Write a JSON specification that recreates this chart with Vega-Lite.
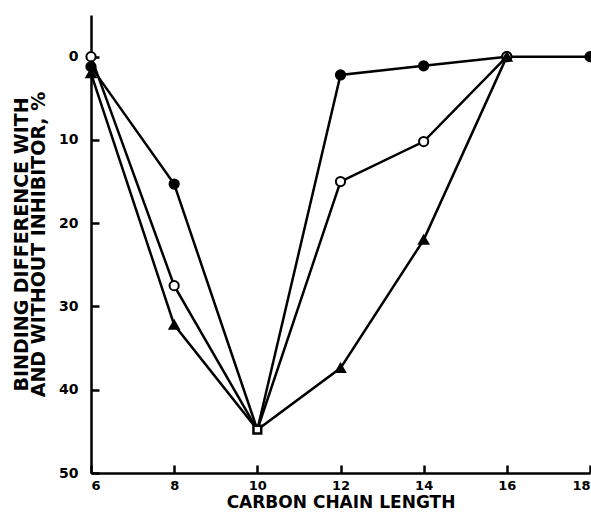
{
  "$schema": "https://vega.github.io/schema/vega-lite/v6.json",
  "width": 499,
  "height": 458,
  "autosize": {"type": "none"},
  "padding": {"left": 91, "top": 15, "right": 1, "bottom": 43},
  "background": "white",
  "config": {
    "view": {"stroke": null},
    "font": "DejaVu Sans",
    "axis": {"grid": false, "domainColor": "black", "domainWidth": 2.5, "tickColor": "black", "tickWidth": 2.5, "labelColor": "black", "titleColor": "black", "labelFont": "DejaVu Sans", "titleFont": "DejaVu Sans", "labelFontSize": 14, "titleFontSize": 18, "titleFontWeight": "bold", "labelFontWeight": "bold"}
  },
  "datasets": {
    "main": [
      {"series": "A", "carbon": 6, "binding": 1.2},
      {"series": "A", "carbon": 8, "binding": 15.3},
      {"series": "A", "carbon": 10, "binding": 44.8},
      {"series": "A", "carbon": 12, "binding": 2.2},
      {"series": "A", "carbon": 14, "binding": 1.1},
      {"series": "A", "carbon": 16, "binding": 0},
      {"series": "A", "carbon": 18, "binding": 0},
      {"series": "B", "carbon": 6, "binding": 0},
      {"series": "B", "carbon": 8, "binding": 27.5},
      {"series": "B", "carbon": 10, "binding": 44.8},
      {"series": "B", "carbon": 12, "binding": 15},
      {"series": "B", "carbon": 14, "binding": 10.2},
      {"series": "B", "carbon": 16, "binding": 0},
      {"series": "C", "carbon": 6, "binding": 2},
      {"series": "C", "carbon": 8, "binding": 32.2},
      {"series": "C", "carbon": 10, "binding": 44.8},
      {"series": "C", "carbon": 12, "binding": 37.4},
      {"series": "C", "carbon": 14, "binding": 22},
      {"series": "C", "carbon": 16, "binding": 0}
    ],
    "center": [{"carbon": 10, "binding": 44.8}]
  },
  "encoding": {
    "x": {"field": "carbon", "type": "quantitative", "scale": {"domain": [6, 18], "nice": false, "zero": false},
      "axis": {"values": [6, 8, 10, 12, 14, 16, 18], "tickSize": -8, "labelPadding": 14, "labelFontSize": 13, "title": "CARBON CHAIN LENGTH", "titlePadding": 2, "titleFontSize": 17}},
    "y": {"field": "binding", "type": "quantitative", "scale": {"domain": [-5, 50], "reverse": true, "nice": false, "zero": false},
      "axis": {"values": [0, 10, 20, 30, 40, 50], "tickSize": -8, "labelPadding": 21, "title": ["BINDING DIFFERENCE WITH", "AND WITHOUT INHIBITOR, %"], "titlePadding": 10, "titleLineHeight": 17, "titleFontSize": 19}}
  },
  "layer": [
    {
      "data": {"name": "main"},
      "mark": {"type": "line", "color": "black", "strokeWidth": 2.5, "clip": false},
      "encoding": {"detail": {"field": "series"}}
    },
    {
      "data": {"name": "main"},
      "transform": [{"filter": "datum.carbon != 10"}],
      "mark": {"type": "point", "stroke": "black", "strokeWidth": 2, "opacity": 1, "size": 85, "clip": false},
      "encoding": {
        "shape": {"field": "series", "type": "nominal", "scale": {"domain": ["A", "B", "C"], "range": ["circle", "circle", "triangle-up"]}, "legend": null},
        "fill": {"field": "series", "type": "nominal", "scale": {"domain": ["A", "B", "C"], "range": ["black", "white", "black"]}, "legend": null}
      }
    },
    {
      "data": {"name": "center"},
      "mark": {"type": "point", "shape": "square", "stroke": "black", "strokeWidth": 2.5, "fill": "white", "opacity": 1, "size": 60}
    }
  ]
}
